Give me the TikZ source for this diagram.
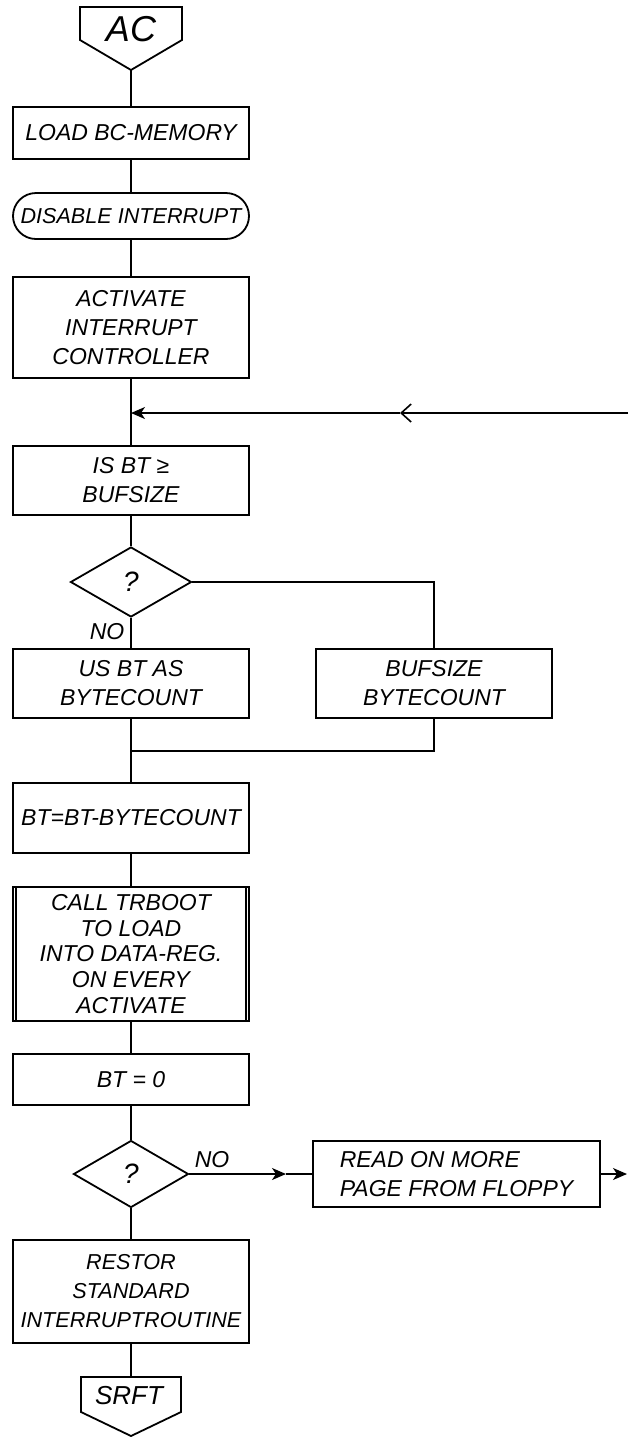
\documentclass[tikz,border=0pt]{standalone}
\usepackage{fontspec}
\setmainfont{Liberation Sans}
\usetikzlibrary{shapes.geometric,arrows.meta}

\tikzset{
	box/.style={draw, line width=0.9pt, minimum width=118pt, align=center, inner sep=1pt},
	decide/.style={draw, diamond, line width=0.9pt, inner sep=0pt, font=\itshape\fontsize{14}{14}\selectfont},
	flow/.style={line width=0.8pt},
	barb/.style={flow, -{Straight Barb[length=5pt, width=9pt]}},
	tip/.style={flow, -{Stealth[length=7pt, width=6pt, inset=2pt]}},
}

\begin{document}
\begin{tikzpicture}[x=0.5pt, y=-0.5pt, font=\itshape\fontsize{11.5}{14.5}\selectfont]
	\useasboundingbox (0, 0) rectangle (628, 1437);
	% entry connector
	\draw[line width=0.9pt] (80, 7) -- (182, 7) -- (182, 40) -- (131, 70) -- (80, 40) -- cycle;
	\node[font=\itshape\fontsize{18}{18}\selectfont] (ac) at (131, 29) {AC};
	\coordinate (actip) at (131, 70);
	% main column
	\node[box, minimum height=26pt] (load) at (131, 133) {LOAD BC-MEMORY};
	\node[box, minimum height=23pt, rounded corners=11.5pt, font=\itshape\fontsize{10.8}{14}\selectfont] (disable) at (131, 216) {DISABLE INTERRUPT};
	\node[box, minimum height=50.5pt] (activate) at (131, 327.5) {ACTIVATE\\INTERRUPT\\CONTROLLER};
	\node[box, minimum height=34.5pt] (isbt) at (131, 480.5) {IS BT ≥\\BUFSIZE};
	\node[decide, minimum width=60.5pt, minimum height=35pt] (q1) at (131, 582) {?};
	\node (no1) at (107, 632) {NO};
	\node[box, minimum height=34.5pt] (usbt) at (131, 683.5) {US BT AS\\BYTECOUNT};
	\node[box, minimum height=34.5pt] (bufbc) at (434, 683.5) {BUFSIZE\\BYTECOUNT};
	\coordinate (join) at (131, 751);
	\node[box, minimum height=35pt] (btsub) at (131, 818) {BT=BT-BYTECOUNT};
	\node[box, minimum height=67pt, font=\itshape\fontsize{11.5}{12.8}\selectfont] (call) at (131, 954) {CALL TRBOOT\\TO LOAD\\INTO DATA-REG.\\ON EVERY\\ACTIVATE};
	\draw[line width=0.9pt] ([xshift=2pt]call.north west) -- ([xshift=2pt]call.south west);
	\draw[line width=0.9pt] ([xshift=-2pt]call.north east) -- ([xshift=-2pt]call.south east);
	\node[box, minimum height=25.5pt] (btzero) at (131, 1079.5) {BT = 0};
	\node[decide, minimum width=57.5pt, minimum height=33.5pt] (q2) at (131, 1174) {?};
	\node (no2) at (212, 1160) {NO};
	\node[box, minimum width=143.5pt, minimum height=33pt, align=left] (read) at (456.5, 1174) {READ ON MORE\\PAGE FROM FLOPPY};
	\node[box, minimum height=51.5pt, font=\itshape\fontsize{10.8}{14.5}\selectfont] (restor) at (131, 1291.5) {RESTOR\\STANDARD\\INTERRUPTROUTINE};
	% exit connector
	\draw[line width=0.9pt] (81, 1377) -- (181, 1377) -- (181, 1412) -- (131, 1436) -- (81, 1412) -- cycle;
	\node[font=\itshape\fontsize{13}{13}\selectfont] (srft) at (129, 1396) {SRFT};
	\coordinate (srfttop) at (131, 1377);
	% connectors
	\draw[flow] (actip) -- (load);
	\draw[flow] (load) -- (disable);
	\draw[flow] (disable) -- (activate);
	\draw[flow] (activate) -- (isbt);
	\draw[flow] (isbt) -- (q1);
	\draw[flow] (q1) -- (usbt);
	\draw[flow] (q1.east) -| (bufbc.north);
	\draw[flow] (usbt) -- (join) -- (btsub);
	\draw[flow] (bufbc.south) |- (join);
	\draw[flow] (btsub) -- (call);
	\draw[flow] (call) -- (btzero);
	\draw[flow] (btzero) -- (q2);
	\draw[flow] (q2) -- (restor);
	\draw[flow] (restor) -- (srfttop);
	% loop back
	\coordinate (loopin) at (628, 413);
	\coordinate (loopmid) at (400, 413);
	\coordinate (merge) at (131, 413);
	\draw[barb] (loopin) -- (loopmid);
	\draw[tip] (loopmid) -- (merge);
	% no branch
	\coordinate (nomid) at (286, 1174);
	\coordinate (readout) at (627, 1174);
	\draw[tip] (q2.east) -- (nomid);
	\draw[flow] (nomid) -- (read.west);
	\draw[tip] (read.east) -- (readout);
\end{tikzpicture}
\end{document}
